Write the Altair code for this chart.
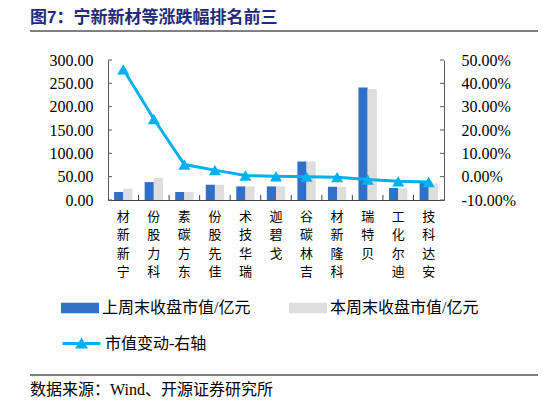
import pandas as pd
import altair as alt

names = ['宁新新材', '科力股份', '东方碳素', '佳先股份', '瑞华技术', '戈碧迦',
         '吉林碳谷', '科隆新材', '贝特瑞', '迪尔化工', '安达科技']
last_week = [17.1, 38.4, 17.1, 32.7, 29.1, 29.1, 82.5, 28.4, 241.0, 25.6, 36.3]
this_week = [24.2, 46.9, 17.0, 32.7, 29.0, 29.0, 82.5, 28.3, 238.0, 25.0, 35.5]
change = [0.46, 0.247, 0.052, 0.028, 0.005, 0.002, 0.0, -0.002, -0.012, -0.02, -0.023]

s_last = '上周末收盘市值/亿元'
s_this = '本周末收盘市值/亿元'
s_chg = '市值变动-右轴'
left_ticks = [0, 50, 100, 150, 200, 250, 300]
right_ticks = [-0.1, 0.0, 0.1, 0.2, 0.3, 0.4, 0.5]

title_text = '图7：宁新新材等涨跌幅排名前三'
source_text = '数据来源：Wind、开源证券研究所'

BLUE = '#3070C6'
GRAY = '#DEDEDE'
CYAN = '#00B0F0'
NAVY = '#1F2A7C'
AXIS = '#595959'
FONT = 'Liberation Serif, Noto Sans CJK SC'

W, H = 336, 140
STEP = W / len(names)

bars_df = pd.DataFrame({
    'name': names * 2,
    'series': [s_last] * len(names) + [s_this] * len(names),
    'value': last_week + this_week,
})
line_df = pd.DataFrame({'name': names, 'change': change, 's': [s_chg] * len(names)})
left_df = pd.DataFrame({'v': left_ticks})
right_df = pd.DataFrame({'v': right_ticks})
cat_df = pd.DataFrame({'name': names[1:]})

x_enc = alt.X('name:N', sort=names, title=None,
              scale=alt.Scale(paddingInner=0.4, paddingOuter=0.2),
              axis=alt.Axis(labelAngle=0, labelExpr="reverse(split(datum.label, ''))",
                            labelBaseline='top', labelFontSize=13, labelLineHeight=18.5,
                            labelFont=FONT, labelColor='black', labelPadding=10,
                            ticks=False, domainColor='#404040'))

bars = alt.Chart(bars_df).mark_bar().encode(
    x=x_enc,
    xOffset=alt.XOffset('series:N', sort=[s_last, s_this]),
    y=alt.Y('value:Q', title=None,
            scale=alt.Scale(domain=[0, 300]),
            axis=alt.Axis(values=left_ticks, format='.2f', grid=False, ticks=False,
                          labelFont=FONT, labelFontSize=16, labelColor='black',
                          labelPadding=15, domainColor=AXIS)),
    color=alt.Color('series:N',
                    scale=alt.Scale(domain=[s_last, s_this], range=[BLUE, GRAY]),
                    legend=alt.Legend(orient='none', legendX=-47, legendY=229,
                                      direction='horizontal', columns=2, title=None,
                                      symbolType='M-1,-0.28L1,-0.28L1,0.28L-1,0.28Z',
                                      symbolSize=1444, symbolStrokeWidth=0,
                                      labelFont=FONT, labelFontSize=16, labelColor='black',
                                      labelOffset=3, columnPadding=38, padding=0)),
)

line = alt.Chart(line_df).mark_line(strokeWidth=3).encode(
    x=alt.X('name:N', sort=names),
    y=alt.Y('change:Q', title=None,
            scale=alt.Scale(domain=[-0.1, 0.5]),
            axis=alt.Axis(values=right_ticks, format='.2%', grid=False, ticks=False,
                          labelExpr="replace(datum.label, '−', '-')",
                          labelFont=FONT, labelFontSize=16, labelColor='black',
                          labelPadding=17, domainColor=AXIS)),
    stroke=alt.Stroke('s:N', scale=alt.Scale(domain=[s_chg], range=[CYAN]),
                      legend=alt.Legend(orient='none', legendX=-47, legendY=263, title=None,
                                        symbolType='M-1,0L1,0M-0.2,0.18L0,-0.16L0.2,0.18Z',
                                        symbolSize=1444, symbolStrokeWidth=3,
                                        symbolStrokeColor=CYAN, symbolFillColor=CYAN,
                                        labelFont=FONT, labelFontSize=16, labelColor='black',
                                        labelOffset=3, padding=0)),
)

points = alt.Chart(line_df).mark_point(shape='triangle-up', filled=True, size=144,
                                       color=CYAN, opacity=1).encode(
    x=alt.X('name:N', sort=names),
    y=alt.Y('change:Q', scale=alt.Scale(domain=[-0.1, 0.5]), axis=None),
)

# inward tick marks, as in the original spreadsheet chart
left_tk = alt.Chart(left_df).mark_rule(color=AXIS).encode(
    y=alt.Y('v:Q', scale=alt.Scale(domain=[0, 300]), axis=None),
    x=alt.value(0), x2=alt.value(4))
right_tk = alt.Chart(right_df).mark_rule(color=AXIS).encode(
    y=alt.Y('v:Q', scale=alt.Scale(domain=[-0.1, 0.5]), axis=None),
    x=alt.value(W - 4), x2=alt.value(W))
x_tk = alt.Chart(cat_df).mark_rule(color='#404040', xOffset=-0.2 * STEP).encode(
    x=alt.X('name:N', sort=names, bandPosition=0),
    y=alt.value(H - 5), y2=alt.value(H))

title = alt.Chart(pd.DataFrame({'t': [title_text]})).mark_text(
    align='left', baseline='middle', fontSize=17, fontWeight='bold',
    font='Liberation Sans, Noto Sans CJK SC', color=NAVY
).encode(text='t:N', x=alt.value(-78), y=alt.value(-42))

top_rule = alt.Chart(pd.DataFrame({'a': [0]})).mark_rule(color='black', strokeWidth=1).encode(
    x=alt.value(-78), x2=alt.value(440), y=alt.value(-29))

bottom_rule = alt.Chart(pd.DataFrame({'a': [0]})).mark_rule(color='black', strokeWidth=1).encode(
    x=alt.value(-78), x2=alt.value(440), y=alt.value(315))

source = alt.Chart(pd.DataFrame({'t': [source_text]})).mark_text(
    align='left', baseline='middle', fontSize=16, font=FONT, color='black'
).encode(text='t:N', x=alt.value(-78), y=alt.value(330))

chart = alt.layer(
    bars, line, points, left_tk, right_tk, x_tk, title, top_rule, bottom_rule, source
).resolve_scale(
    y='independent', color='independent'
).properties(
    width=W, height=H,
    autosize=alt.AutoSizeParams(type='none'),
    padding={'left': 100, 'top': 52, 'right': 94, 'bottom': 197},
).configure_view(stroke=None)

chart.save('out.html', embed_options={'renderer': 'svg', 'actions': False})
